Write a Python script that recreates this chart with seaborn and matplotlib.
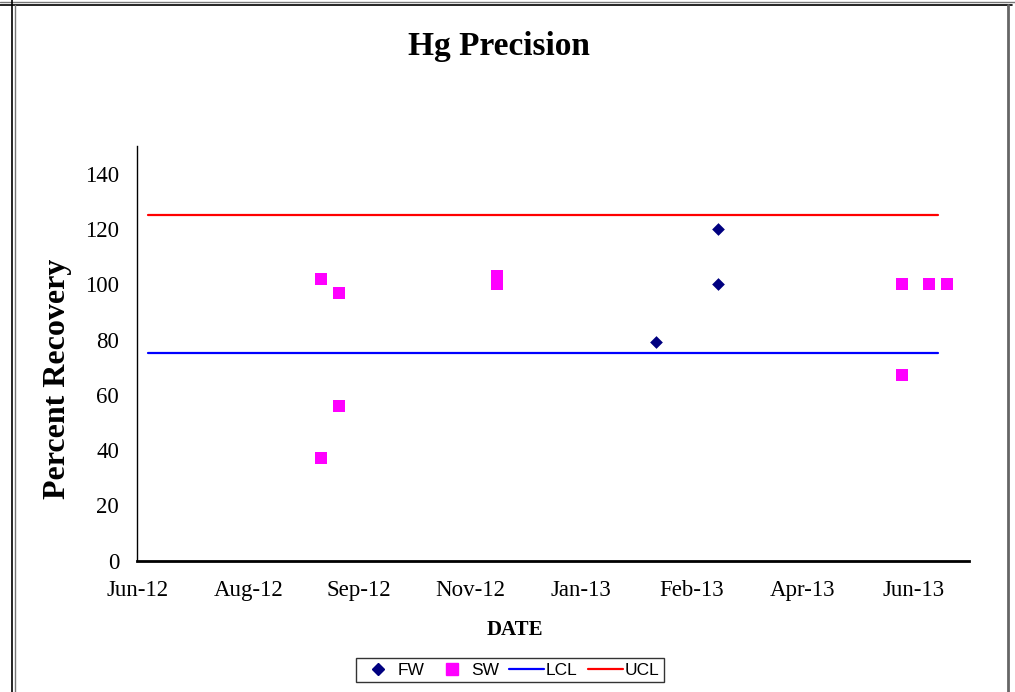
import matplotlib
matplotlib.use("Agg")
import matplotlib.pyplot as plt
from matplotlib.lines import Line2D
import pandas as pd
import seaborn as sns

# ---- data ----
fw_dates = ["2013-02-07", "2013-03-07", "2013-03-07"]
fw_values = [79, 120, 100]
sw_dates = ["2012-09-09", "2012-09-09", "2012-09-17", "2012-09-17",
            "2012-11-27", "2012-11-27", "2013-05-29", "2013-05-29",
            "2013-06-10", "2013-06-18"]
sw_values = [102, 37, 97, 56, 103, 100, 100, 67, 100, 100]
limit_dates = ["2012-06-23", "2013-06-14"]
lcl_values = [75, 75]
ucl_values = [125, 125]
axis_start = "2012-06-18"
axis_end = "2013-06-28"
tick_step_days = 50
n_ticks = 8
y_ticks = [0, 20, 40, 60, 80, 100, 120, 140]

fw = pd.DataFrame({"date": pd.to_datetime(fw_dates), "value": fw_values})
sw = pd.DataFrame({"date": pd.to_datetime(sw_dates), "value": sw_values})
lcl = pd.DataFrame({"date": pd.to_datetime(limit_dates), "value": lcl_values})
ucl = pd.DataFrame({"date": pd.to_datetime(limit_dates), "value": ucl_values})

sns.set_theme(style="white")
plt.rcParams["font.family"] = ["Liberation Serif", "DejaVu Serif"]
plt.rcParams["text.color"] = "black"
plt.rcParams["axes.labelcolor"] = "black"

fig = plt.figure(figsize=(10.15, 6.92), dpi=100)
ax = fig.add_axes([137.3 / 1015, 1 - 560.7 / 692, (969 - 137.3) / 1015, (560.7 - 146) / 692])

sns.lineplot(data=lcl, x="date", y="value", ax=ax, color="#0000FF", linewidth=1.6, label="LCL")
sns.lineplot(data=ucl, x="date", y="value", ax=ax, color="#FF0000", linewidth=1.6, label="UCL")
sns.scatterplot(data=fw, x="date", y="value", ax=ax, color="#000080", marker="D",
                s=42, linewidth=0, label="FW", zorder=3)
sns.scatterplot(data=sw, x="date", y="value", ax=ax, color="#FF00FF", marker="s",
                s=72, linewidth=0, label="SW", zorder=3)

start = pd.Timestamp(axis_start)
ax.set_xlim(start, pd.Timestamp(axis_end))
ax.set_ylim(0, 150)
ticks = [start + pd.Timedelta(days=tick_step_days * i) for i in range(n_ticks)]
ax.set_xticks(ticks)
ax.set_xticklabels([t.strftime("%b-%y") for t in ticks])
ax.set_yticks(y_ticks)
ax.set_yticklabels([str(v) for v in y_ticks])

for side in ["top", "right"]:
    ax.spines[side].set_visible(False)
for side in ["left", "bottom"]:
    ax.spines[side].set_color("black")
ax.spines["left"].set_linewidth(1.0)
ax.spines["bottom"].set_linewidth(2.0)
ax.tick_params(axis="both", which="major", direction="out", colors="#555555",
               labelcolor="black", labelsize=16.5)
ax.tick_params(axis="y", length=8, width=1.2, pad=5)
ax.tick_params(axis="x", length=6, width=1.0, pad=8)
ax.grid(False)

ax.set_xlabel("")
ax.set_ylabel("Percent Recovery", fontsize=23, fontweight="bold")
ax.yaxis.set_label_coords(-0.078, (560.7 - 379) / (560.7 - 146))
fig.text(515 / 1015, 1 - 630 / 692, "DATE", fontsize=15, fontweight="bold",
         ha="center", va="center")

fig.text(499 / 1015, 1 - 46 / 692, "Hg Precision", fontsize=24, fontweight="bold",
         ha="center", va="center")

if ax.get_legend():
    ax.get_legend().remove()
handles = [
    Line2D([], [], marker="D", color="#000080", linestyle="none", markersize=6),
    Line2D([], [], marker="s", color="#FF00FF", linestyle="none", markersize=8),
    Line2D([], [], color="#0000FF", linewidth=1.6),
    Line2D([], [], color="#FF0000", linewidth=1.6),
]
leg = fig.legend(handles, ["FW", "SW", "LCL", "UCL"], loc="center",
                 bbox_to_anchor=(510 / 1015, 1 - 670 / 692), ncol=4,
                 frameon=True, fancybox=False, edgecolor="black",
                 prop={"family": "Liberation Sans", "size": 12.5},
                 handlelength=2.0, handletextpad=0.1, columnspacing=0.6,
                 borderpad=0.25)
leg.get_frame().set_linewidth(1.0)
for t in leg.get_texts():
    t.set_color("black")

# outer frame (document table borders)
def fline(x0, y0, x1, y1, color="black", lw=1.2):
    fig.add_artist(Line2D([x0 / 1015, x1 / 1015], [1 - y0 / 692, 1 - y1 / 692],
                          transform=fig.transFigure, color=color, linewidth=lw))

fline(0, 2, 1015, 2, "#777777", 1.0)
fline(0, 4.5, 1012, 4.5, "black", 1.2)
fline(12, 0, 12, 692, "black", 1.2)
fline(14.5, 5, 14.5, 692, "#777777", 1.0)
fline(1008, 5, 1008, 692, "#666666", 2.0)

fig.savefig("out.png", dpi=100)
